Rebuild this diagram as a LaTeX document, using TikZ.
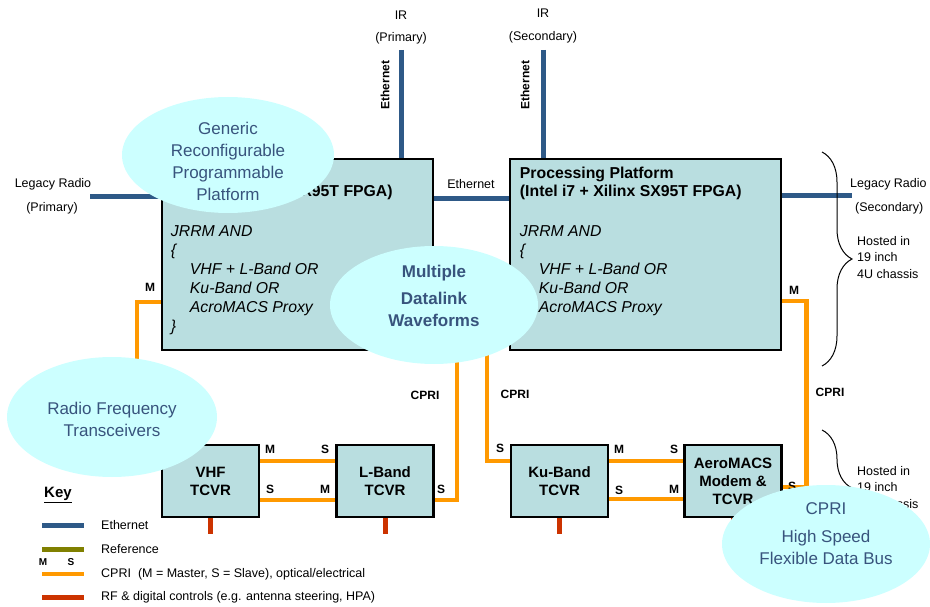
\documentclass[tikz,border=0pt]{standalone}
\usepackage{fontspec}
\setmainfont{Liberation Sans}
\usetikzlibrary{positioning}
\usetikzlibrary{calc}
\usetikzlibrary{shapes.geometric}
\usetikzlibrary{decorations.pathreplacing}
\definecolor{ethColor}{rgb}{0.18,0.35,0.53}
\definecolor{cpriColor}{rgb}{1,0.6,0}
\definecolor{rfColor}{rgb}{0.8,0.2,0}
\definecolor{refColor}{rgb}{0.5,0.5,0}
\definecolor{boxColor}{rgb}{0.725,0.87,0.88}
\definecolor{bubbleColor}{rgb}{0.8,1,1}
\definecolor{bubbleInk}{rgb}{0.22,0.33,0.49}

\begin{document}
\begin{tikzpicture}[x=1pt,y=-1pt]

          \tikzstyle{platformBox} = [draw=black, line width=2.5pt, fill=boxColor, minimum width=271pt, minimum height=191pt, inner sep=0pt];
          \tikzstyle{tcvrBox} = [draw=black, line width=2.5pt, fill=boxColor, minimum width=97pt, minimum height=72pt, inner sep=0pt, align=center, font=\bfseries\fontsize{15}{18}\selectfont];
          \tikzstyle{boxTitle} = [anchor=north west, align=left, inner sep=0pt, font=\bfseries\fontsize{15.8}{18}\selectfont];
          \tikzstyle{boxBody} = [anchor=north west, align=left, inner sep=0pt, font=\itshape\fontsize{15.8}{19}\selectfont];
          \tikzstyle{bubble} = [ellipse, fill=bubbleColor, inner sep=0pt];
          \tikzstyle{bubbleText} = [align=center, inner sep=0pt, text=bubbleInk, font=\fontsize{17}{22}\selectfont];
          \tikzstyle{smallLabel} = [inner sep=0pt, align=left, font=\fontsize{12.5}{16.5}\selectfont];
          \tikzstyle{portLabel} = [inner sep=0pt, font=\bfseries\fontsize{12}{14}\selectfont];

          \tikzstyle{ethEdge} = [line width=5pt, ethColor];
          \tikzstyle{cpriEdge} = [line width=4.5pt, cpriColor];
          \tikzstyle{rfEdge} = [line width=5pt, rfColor];
          \tikzstyle{refEdge} = [line width=5pt, refColor];
          \tikzstyle{braceEdge} = [line width=1pt, decorate, decoration={brace, amplitude=30pt}];

          \useasboundingbox (0,0) rectangle (930,607);

          % platforms
          \node[platformBox] (lbox) at (297.5,254.5) {};
          \node[platformBox] (rbox) at (645.5,254.5) {};
          \node[boxTitle] (ltitle) at ($(lbox.north west)+(10,9)$) {Processing Platform\\(Intel i7 + Xilinx SX95T FPGA)};
          \node[boxTitle] (rtitle) at ($(rbox.north west)+(11,9)$) {Processing Platform\\(Intel i7 + Xilinx SX95T FPGA)};
          \node[boxBody] (lbody) at ($(lbox.north west)+(10,68)$) {JRRM AND\\\{\\\hspace*{19pt}VHF + L-Band OR\\\hspace*{19pt}Ku-Band OR\\\hspace*{19pt}AcroMACS Proxy\\\}};
          \node[boxBody] (rbody) at ($(rbox.north west)+(11,68)$) {JRRM AND\\\{\\\hspace*{19pt}VHF + L-Band OR\\\hspace*{19pt}Ku-Band OR\\\hspace*{19pt}AcroMACS Proxy};

          % transceivers
          \node[tcvrBox] (vhf) at (210.5,481) {VHF\\TCVR};
          \node[tcvrBox] (lband) at (385,481) {L-Band\\TCVR};
          \node[tcvrBox] (ku) at (559.5,481) {Ku-Band\\TCVR};
          \node[tcvrBox] (aero) at (733,481) {AeroMACS\\Modem \&\\TCVR};

          % ethernet
          \coordinate (irPrimEnd) at (401,50);
          \coordinate (irSecEnd) at (543,50);
          \coordinate (legPrimEnd) at (90,197);
          \coordinate (legSecEnd) at (852,196);
          \draw[ethEdge] (irPrimEnd) -- (irPrimEnd |- lbox.north);
          \draw[ethEdge] (irSecEnd) -- (irSecEnd |- rbox.north);
          \draw[ethEdge] (legPrimEnd) -- (legPrimEnd -| lbox.west);
          \draw[ethEdge] (legSecEnd -| rbox.east) -- (legSecEnd);
          \draw[ethEdge] ($(lbox.north east)+(0,41)$) -- ($(rbox.north west)+(0,41)$);

          \node[smallLabel] (irPrim) at (401,15) {IR};
          \node[smallLabel] (irPrimSub) at (401,38) {(Primary)};
          \node[smallLabel] (irSec) at (543,13) {IR};
          \node[smallLabel] (irSecSub) at (543,37) {(Secondary)};
          \node[portLabel, rotate=90] (ethPrim) at (385,85) {Ethernet};
          \node[portLabel, rotate=90] (ethSec) at (525,85) {Ethernet};
          \node[smallLabel] (ethMid) at (471,184) {Ethernet};
          \node[smallLabel] (legPrim) at (53,184) {Legacy Radio};
          \node[smallLabel] (legPrimSub) at (52,208) {(Primary)};
          \node[smallLabel, anchor=west] (legSec) at (850,184) {Legacy Radio};
          \node[smallLabel, anchor=west] (legSecSub) at (855,208) {(Secondary)};

          % cpri
          \coordinate (lmEnd) at (137,400);
          \coordinate (lbandUp) at (457,330);
          \coordinate (kuUp) at (487,330);
          \draw[cpriEdge] ($(lbox.north west)+(0,144)$) -| (lmEnd);
          \draw[cpriEdge] ($(rbox.north east)+(0,143)$) -- ++(24,0) |- ($(aero.north east)+(0,43)$);
          \draw[cpriEdge] ($(lband.north east)+(0,56)$) -| (lbandUp);
          \draw[cpriEdge] ($(ku.north west)+(0,17)$) -| (kuUp);
          \draw[cpriEdge] ($(vhf.north east)+(0,17)$) -- ($(lband.north west)+(0,17)$);
          \draw[cpriEdge] ($(vhf.north east)+(0,56)$) -- ($(lband.north west)+(0,56)$);
          \draw[cpriEdge] ($(ku.north east)+(0,17)$) -- ($(aero.north west)+(0,17)$);
          \draw[cpriEdge] ($(ku.north east)+(0,55)$) -- ($(aero.north west)+(0,55)$);

          \node[portLabel] (lmLabel) at (150,287) {M};
          \node[portLabel] (rmLabel) at (794,290) {M};
          \node[portLabel] (cpriA) at (425,395) {CPRI};
          \node[portLabel] (cpriB) at (515,394) {CPRI};
          \node[portLabel] (cpriC) at (830,392) {CPRI};
          \node[portLabel] (vhfM) at (270,449) {M};
          \node[portLabel] (lbandS) at (325,449) {S};
          \node[portLabel] (vhfS) at (270,489) {S};
          \node[portLabel] (lbandM) at (325,489) {M};
          \node[portLabel] (lbandOut) at (441,489) {S};
          \node[portLabel] (kuIn) at (500,448) {S};
          \node[portLabel] (kuM) at (619,449) {M};
          \node[portLabel] (aeroS) at (674,449) {S};
          \node[portLabel] (kuS) at (619,490) {S};
          \node[portLabel] (aeroM) at (674,489) {M};
          \node[portLabel] (aeroOut) at (792,486) {S};

          % rf
          \draw[rfEdge] (vhf.south) -- ++(0,16);
          \draw[rfEdge] (lband.south) -- ++(0,16);
          \draw[rfEdge] (ku.south) -- ++(0,16);
          \draw[rfEdge] (aero.south) -- ++(0,16);

          % chassis
          \coordinate (braceTopA) at (822,152);
          \coordinate (braceBotA) at (822,366);
          \coordinate (braceTopB) at (822,430);
          \coordinate (braceBotB) at (822,546);
          \draw[braceEdge] (braceTopA) -- (braceBotA);
          \draw[braceEdge] (braceTopB) -- (braceBotB);
          \node[smallLabel, anchor=north west] (hostA) at (857,236) {Hosted in\\19 inch\\4U chassis};
          \node[smallLabel, anchor=north west] (hostB) at (857,466) {Hosted in\\19 inch\\4U chassis};

          % key
          \node[inner sep=0pt, font=\bfseries\fontsize{15}{18}\selectfont] (keyTitle) at (58,495) {\underline{Key}};
          \node[smallLabel, anchor=west] (keyEth) at (101,525) {Ethernet};
          \node[smallLabel, anchor=west] (keyRef) at (101,549) {Reference};
          \node[smallLabel, anchor=west] (keyCpri) at (101,574) {CPRI\ \ (M = Master, S = Slave), optical/electrical};
          \node[smallLabel, anchor=west] (keyRf) at (101,597) {RF \& digital controls (e.g. antenna steering, HPA)};
          \node[portLabel, font=\bfseries\fontsize{10}{12}\selectfont] (keyM) at (43,562) {M};
          \node[portLabel, font=\bfseries\fontsize{10}{12}\selectfont] (keyS) at (71,562) {S};
          \draw[ethEdge] ($(keyEth.west)+(-59,0)$) -- ($(keyEth.west)+(-17,0)$);
          \draw[refEdge] ($(keyRef.west)+(-59,0)$) -- ($(keyRef.west)+(-17,0)$);
          \draw[cpriEdge] ($(keyCpri.west)+(-59,0)$) -- ($(keyCpri.west)+(-17,0)$);
          \draw[rfEdge] ($(keyRf.west)+(-59,0)$) -- ($(keyRf.west)+(-17,0)$);

          % callouts
          \node[bubble, minimum width=212pt, minimum height=116pt] (genBubble) at (228,155) {};
          \node[bubbleText] (genText) at (228,161) {Generic\\Reconfigurable\\Programmable\\Platform};
          \node[bubble, minimum width=208pt, minimum height=118pt] (dlBubble) at (434,305) {};
          \node[bubbleText, font=\bfseries\fontsize{17}{22}\selectfont] (dlText) at (434,296) {Multiple\\[5pt]Datalink\\Waveforms};
          \node[bubble, minimum width=210pt, minimum height=120pt] (rfBubble) at (112,417) {};
          \node[bubbleText] (rfText) at (112,419) {Radio Frequency\\Transceivers};
          \node[bubble, minimum width=208pt, minimum height=118pt] (busBubble) at (826,544) {};
          \node[bubbleText] (busText) at (826,534) {CPRI\\[6pt]High Speed\\Flexible Data Bus};
        \end{tikzpicture}
\end{document}
